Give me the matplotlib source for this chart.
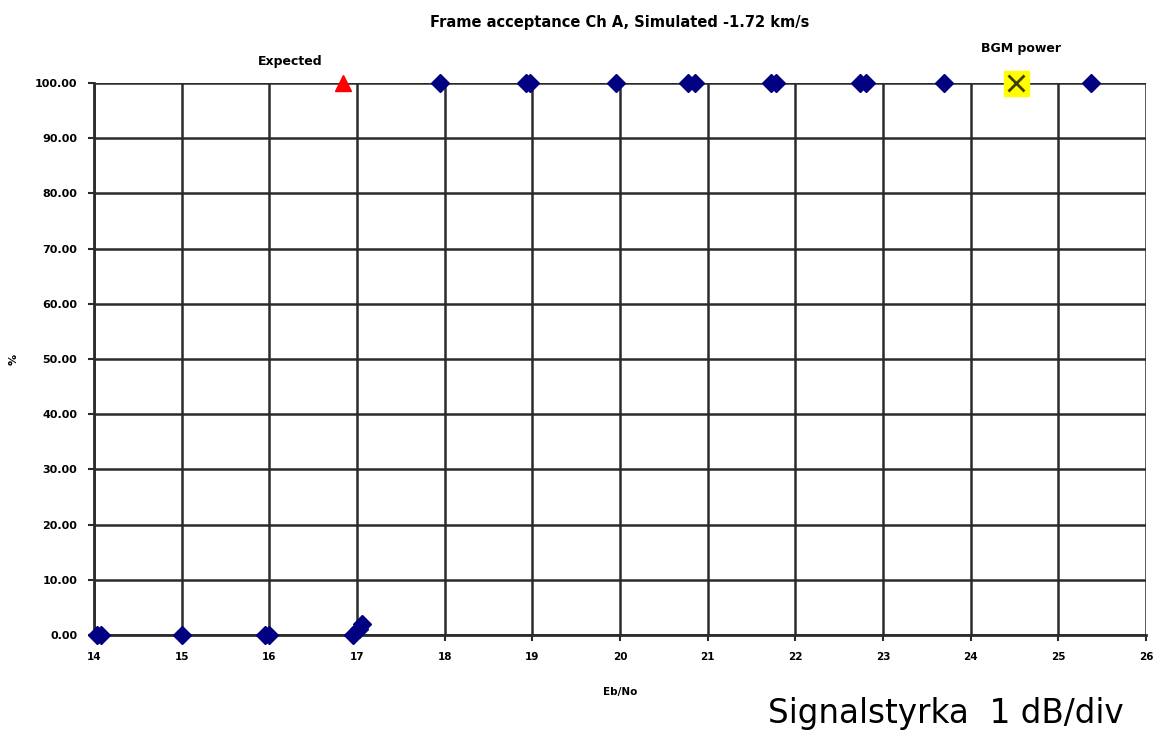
import matplotlib.pyplot as plt

# measured points (Eb/No, % accepted)
meas_x = [14.03, 14.08, 15.0, 15.95, 16.0, 16.95, 17.02, 17.06,
          17.95, 18.93, 18.97, 19.95, 20.78, 20.85, 21.72, 21.78,
          22.74, 22.8, 23.7, 25.37]
meas_y = [0.0, 0.0, 0.0, 0.0, 0.0, 0.0, 1.0, 2.0,
          100.0, 100.0, 100.0, 100.0, 100.0, 100.0, 100.0, 100.0,
          100.0, 100.0, 100.0, 100.0]

expected_x = [16.84]
expected_y = [100.0]

bgm_x = [24.52]
bgm_y = [100.0]

x_ticks = list(range(14, 27))
y_ticks = [0, 10, 20, 30, 40, 50, 60, 70, 80, 90, 100]

plt.switch_backend('AGG')
fig = plt.figure(figsize=(11.6, 7.33), dpi=100)
ax = fig.add_axes([0.081, 0.1337, 0.907, 0.7531])

#grid lines, drawn like the old spreadsheet chart
ax.grid(True, color='#2b2b2b', linewidth=1.8)
ax.set_axisbelow(True)

ax.plot(meas_x, meas_y, linestyle='none', marker='D', markersize=9,
        color='#000080', clip_on=False, zorder=3)
ax.plot(expected_x, expected_y, linestyle='none', marker='^', markersize=11,
        color='#ff0000', clip_on=False, zorder=3)
ax.plot(bgm_x, bgm_y, linestyle='none', marker='s', markersize=18,
        color='#ffff00', clip_on=False, zorder=3)
ax.plot(bgm_x, bgm_y, linestyle='none', marker='x', markersize=12,
        markeredgewidth=2, color='#404000', clip_on=False, zorder=4)

ax.set_xlim(14, 26)
ax.set_ylim(0, 100)
ax.set_xticks(x_ticks)
ax.set_yticks(y_ticks)
ax.set_xticklabels([str(t) for t in x_ticks], fontsize=7.5, fontweight='bold')
ax.set_yticklabels(['%.2f' % t for t in y_ticks], fontsize=8, fontweight='bold')
ax.tick_params(axis='both', length=4, width=1.5, color='#2b2b2b', pad=8)

for side in ['top', 'right']:
    ax.spines[side].set_visible(False)
for side in ['left', 'bottom']:
    ax.spines[side].set_linewidth(2)
    ax.spines[side].set_color('#2b2b2b')

ax.set_xlabel('Eb/No', fontsize=7.5, fontweight='bold', labelpad=18)
ax.set_ylabel('%', fontsize=8, fontweight='bold', labelpad=12)

ax.set_title('Frame acceptance Ch A, Simulated -1.72 km/s', fontsize=10.5,
             fontweight='bold', pad=40)

ax.annotate('Expected', xy=(16.84, 100), xytext=(15.87, 103.3),
            textcoords='data', fontsize=9, fontweight='bold',
            annotation_clip=False)
ax.annotate('BGM power', xy=(24.52, 100), xytext=(24.12, 105.6),
            textcoords='data', fontsize=9, fontweight='bold',
            annotation_clip=False)

fig.text(0.662, 0.014, 'Signalstyrka  1 dB/div', fontsize=23.5)

plt.savefig('out.png', dpi=100)
